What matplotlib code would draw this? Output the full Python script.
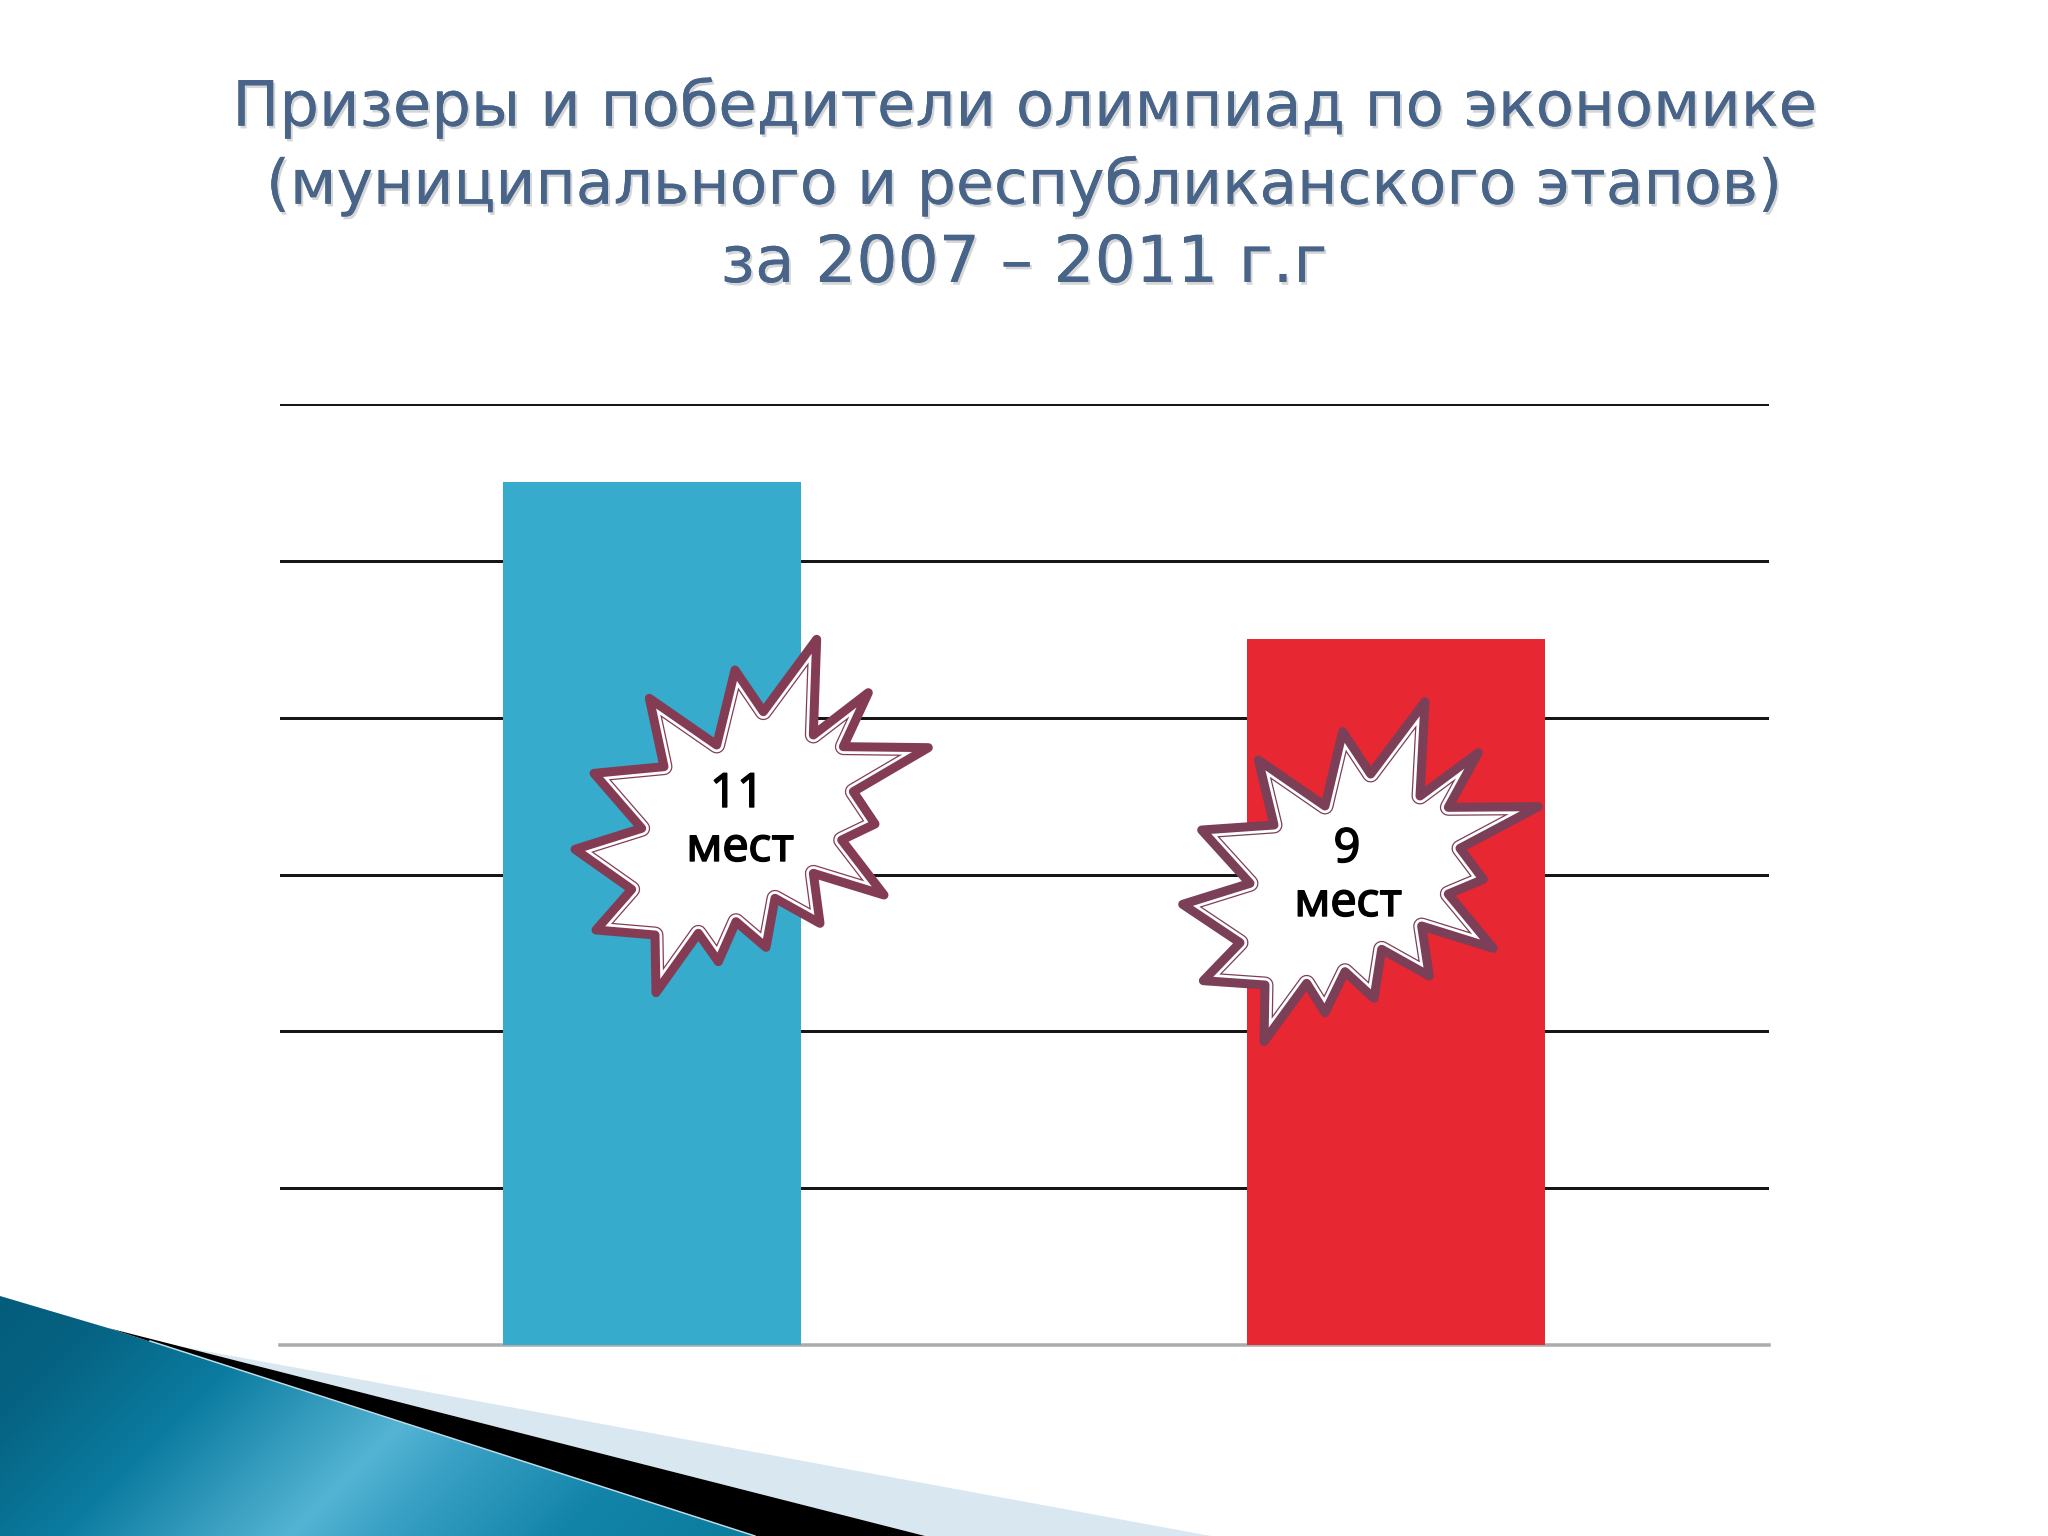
import numpy as np
import matplotlib
matplotlib.use('Agg')
import matplotlib.pyplot as plt
import matplotlib.patheffects as pe
from matplotlib.patches import Polygon

# значения диаграммы
categories = ['Призеры', 'Победители']
places = [11, 9]
bar_colors = ['#36ABCB', '#E72732']
y_ticks = [0, 2, 4, 6, 8, 10, 12]

title_lines = ['Призеры и победители олимпиад по экономике',
               '(муниципального и республиканского этапов)',
               'за 2007 – 2011 г.г']
title_y = [108, 186, 264]
title_size = [45, 44.4, 46.6]

W, H = 2048, 1536

# звезды, пиксели картинки
star1_zoom = [(890, 118), (880, 405), (1045, 278), (970, 440), (1225, 443), (1000, 575), (1065, 672),
              (965, 720), (1092, 885), (880, 820), (900, 970), (765, 895), (738, 1042), (648, 965),
              (595, 1085), (535, 1000), (408, 1178), (405, 1005), (228, 990), (335, 868), (165, 748),
              (365, 685), (222, 520), (432, 500), (388, 295), (590, 435), (645, 210), (730, 335)]
star2_zoom = [(825, 95), (810, 378), (985, 248), (895, 412), (1165, 410), (930, 535), (1000, 628),
              (895, 672), (1030, 835), (815, 768), (838, 918), (695, 838), (672, 985), (585, 905),
              (525, 1028), (470, 940), (342, 1115), (345, 945), (160, 932), (270, 818), (98, 703),
              (300, 640), (155, 480), (372, 465), (325, 270), (525, 408), (578, 185), (662, 312)]
star1 = [(520 + x / 3, 600 + y / 3) for x, y in star1_zoom]
star2 = [(1150 + x / 3, 670 + y / 3) for x, y in star2_zoom]

px = 72 / 100  # один пиксель в пунктах при dpi=100

fig = plt.figure(figsize=(W / 100, H / 100), dpi=100, facecolor='white')

# уголок снизу слева
bg = fig.add_axes([0, 0, 1, 1], zorder=0)
bg.set_xlim(0, W)
bg.set_ylim(H, 0)
bg.axis('off')

bg.add_patch(Polygon([(178, 1346), (1211, 1536), (925, 1536)], closed=True, fc='#D9E8F0', ec='none'))
bg.add_patch(Polygon([(108, 1328), (925, 1536), (750, 1536)], closed=True, fc='black', ec='none'))

grad_u = [-240, -120, 60, 290, 380, 560, 760]
grad_c = np.array([[0x04, 0x5C, 0x7C], [0x06, 0x62, 0x82], [0x0B, 0x7C, 0xA0], [0x55, 0xB4, 0xD4],
                   [0x38, 0xA0, 0xC4], [0x12, 0x84, 0xA8], [0x0C, 0x7C, 0x9C]]) / 255
gx, gy = np.meshgrid(np.arange(0, 756), np.arange(1296, 1537))
u = gx - (1536 - gy)
grad = np.stack([np.interp(u, grad_u, grad_c[:, i]) for i in range(3)], axis=-1)
im = bg.imshow(grad, extent=[0, 755, 1536, 1296], aspect='auto', zorder=3)
teal = Polygon([(0, 1296), (108, 1328), (755, 1536), (0, 1536)], closed=True, fc='none',
               ec='none', transform=bg.transData)
bg.add_patch(teal)
im.set_clip_path(teal)
bg.plot([150, 755], [1341, 1536], color='#BFDDE8', lw=1.5 * px, zorder=4)
bg.set_xlim(0, W)
bg.set_ylim(H, 0)

# диаграмма
left, right, top, bottom = 279.5, 1768.5, 404, 1345
ax = fig.add_axes([left / W, 1 - bottom / H, (right - left) / W, (bottom - top) / H], zorder=1)
ax.patch.set_alpha(0)
ax.bar(range(len(places)), places, width=0.4, color=bar_colors, zorder=3)
ax.set_xlim(-0.5, 1.5)
ax.set_ylim(0, 12)
ax.set_yticks(y_ticks)
ax.set_xticks([])
ax.tick_params(left=False, labelleft=False)
ax.grid(axis='y', color='#161616', lw=3 * px, zorder=1)
ax.set_axisbelow(True)
for s in ['top', 'left', 'right']:
    ax.spines[s].set_visible(False)
ax.spines['bottom'].set_color('#ABABAB')
ax.spines['bottom'].set_linewidth(3.5 * px)
ax.spines['bottom'].set_zorder(2)

# звезды и заголовок
top_ax = fig.add_axes([0, 0, 1, 1], zorder=2)
top_ax.set_xlim(0, W)
top_ax.set_ylim(H, 0)
top_ax.axis('off')


def draw_star(pts, color, lines, xs, ys):
    base = Polygon(pts, closed=True, fc='white', ec='none', zorder=2)
    top_ax.add_patch(base)
    # внутренние тонкие линии обрезаем по контуру
    for lw, c, z in [(17, color, 3), (14.5, 'white', 4)]:
        p = Polygon(pts, closed=True, fc='none', ec=c, lw=lw * px, joinstyle='round', zorder=z)
        top_ax.add_patch(p)
        p.set_clip_path(base)
    top_ax.add_patch(Polygon(pts, closed=True, fc='none', ec=color, lw=9 * px,
                             joinstyle='round', zorder=5))
    for s, x, y in zip(lines, xs, ys):
        top_ax.text(x, y, s, ha='center', va='baseline', fontsize=34, family='Noto Sans',
                    color='black', zorder=6,
                    path_effects=[pe.withStroke(linewidth=1.0, foreground='black')])


draw_star(star1, '#843C54', ['11', 'мест'], [737, 740], [807, 861])
draw_star(star2, '#7B3F58', ['9', 'мест'], [1347, 1348], [862, 916])

for line, y, size in zip(title_lines, title_y, title_size):
    top_ax.text(1024, y, line, ha='center', va='center', fontsize=size, family='DejaVu Sans',
                color='#486489',
                path_effects=[pe.withSimplePatchShadow(offset=(1.5, -2), shadow_rgbFace='#8A8A8A', alpha=0.35),
                              pe.Normal()])

fig.savefig('out.png', dpi=100)
